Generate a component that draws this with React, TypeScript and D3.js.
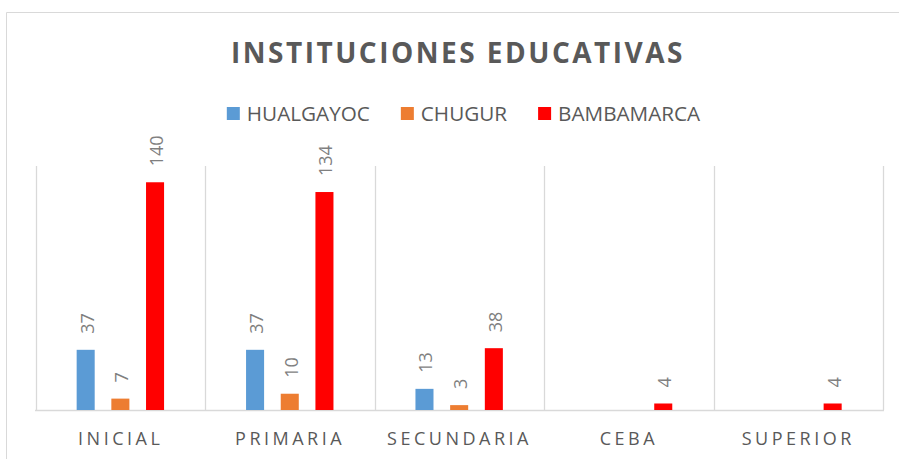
import React, { useEffect, useRef } from 'react';
import * as d3 from 'd3';

const categories = ['INICIAL', 'PRIMARIA', 'SECUNDARIA', 'CEBA', 'SUPERIOR'];
const seriesNames = ['HUALGAYOC', 'CHUGUR', 'BAMBAMARCA'];
const hualgayoc = [37, 37, 13, null, null];
const chugur = [7, 10, 3, null, null];
const bambamarca = [140, 134, 38, 4, 4];
const colors = ['#5B9BD5', '#ED7D31', '#FF0000'];
const yMax = 150;

const seriesValues = [hualgayoc, chugur, bambamarca];

export default function App() {
  const ref = useRef<SVGSVGElement>(null);

  useEffect(() => {
    const width = 899;
    const height = 459;
    const svg = d3.select(ref.current);
    svg.selectAll('*').remove();
    svg.attr('width', width).attr('height', height);

    const font = "'Open Sans', 'DejaVu Sans', sans-serif";
    const grid = '#D9D9D9';

    // chart area border (only left and top edges are visible in the crop)
    svg.append('path')
      .attr('d', `M6.5,${height} V12.5 H${width}`)
      .attr('fill', 'none')
      .attr('stroke', grid)
      .attr('stroke-width', 1);

    // title
    svg.append('text')
      .attr('x', 458)
      .attr('y', 63)
      .attr('text-anchor', 'middle')
      .attr('font-family', font)
      .attr('font-size', 28)
      .attr('font-weight', 700)
      .attr('letter-spacing', 2.5)
      .attr('fill', '#595959')
      .text('INSTITUCIONES EDUCATIVAS');

    // legend
    const legend = svg.append('g');
    let lx = 0;
    seriesNames.forEach((name, i) => {
      const item = legend.append('g').attr('transform', `translate(${lx},0)`);
      item.append('rect')
        .attr('x', 0).attr('y', -14)
        .attr('width', 13).attr('height', 13)
        .attr('fill', colors[i]);
      const t = item.append('text')
        .attr('x', 20)
        .attr('y', 0)
        .attr('font-family', font)
        .attr('font-size', 20.7)
        .attr('fill', '#595959')
        .text(name);
      const w = (t.node() as SVGTextElement).getComputedTextLength();
      lx += 20 + w + 31;
    });
    const legendWidth = lx - 31;
    legend.attr('transform', `translate(${463.5 - legendWidth / 2},121)`);

    const left = 36;
    const right = 883;
    const top = 166;
    const bottom = 410;

    const x0 = d3.scaleBand().domain(categories).range([left, right]).padding(0);
    const bw = x0.bandwidth();
    const x1 = d3.scaleBand()
      .domain(seriesNames)
      .range([bw * 0.24, bw * 0.756])
      .paddingInner(0.48)
      .paddingOuter(0);
    const y = d3.scaleLinear().domain([0, yMax]).range([bottom, top]);

    // vertical category separators
    const bounds = categories.map((c) => x0(c) as number).concat([right]);
    svg.append('g')
      .selectAll('line')
      .data(bounds)
      .enter()
      .append('line')
      .attr('x1', (d) => Math.round(d) + 0.5)
      .attr('x2', (d) => Math.round(d) + 0.5)
      .attr('y1', top)
      .attr('y2', bottom)
      .attr('stroke', grid)
      .attr('stroke-width', 1.3);

    // baseline
    svg.append('line')
      .attr('x1', left - 1)
      .attr('x2', right + 1)
      .attr('y1', bottom + 0.5)
      .attr('y2', bottom + 0.5)
      .attr('stroke', grid)
      .attr('stroke-width', 1.5);

    // bars and labels
    const groups = svg.append('g')
      .selectAll('g')
      .data(categories)
      .enter()
      .append('g')
      .attr('transform', (d) => `translate(${x0(d)},0)`);

    groups.each(function (cat, ci) {
      const g = d3.select(this);
      seriesNames.forEach((s, si) => {
        const v = seriesValues[si][ci];
        if (v == null) return;
        const bx = x1(s) as number;
        g.append('rect')
          .attr('x', bx)
          .attr('y', y(v))
          .attr('width', x1.bandwidth())
          .attr('height', bottom - y(v))
          .attr('fill', colors[si]);
        const cx = bx + x1.bandwidth() / 2 + 8;
        const cy = y(v) - 16;
        g.append('text')
          .attr('transform', `translate(${cx},${cy}) rotate(-90)`)
          .attr('font-family', font)
          .attr('font-size', 18)
          .attr('fill', '#7F7F7F')
          .text(v);
      });
    });

    // category labels
    svg.append('g')
      .selectAll('text')
      .data(categories)
      .enter()
      .append('text')
      .attr('x', (d) => (x0(d) as number) + bw / 2)
      .attr('y', 445)
      .attr('text-anchor', 'middle')
      .attr('font-family', font)
      .attr('font-size', 18)
      .attr('letter-spacing', 3.5)
      .attr('fill', '#595959')
      .text((d) => d);
  }, []);

  return (
    <svg ref={ref} style={{ position: 'absolute', left: 0, top: 0, background: '#fff' }} />
  );
}
